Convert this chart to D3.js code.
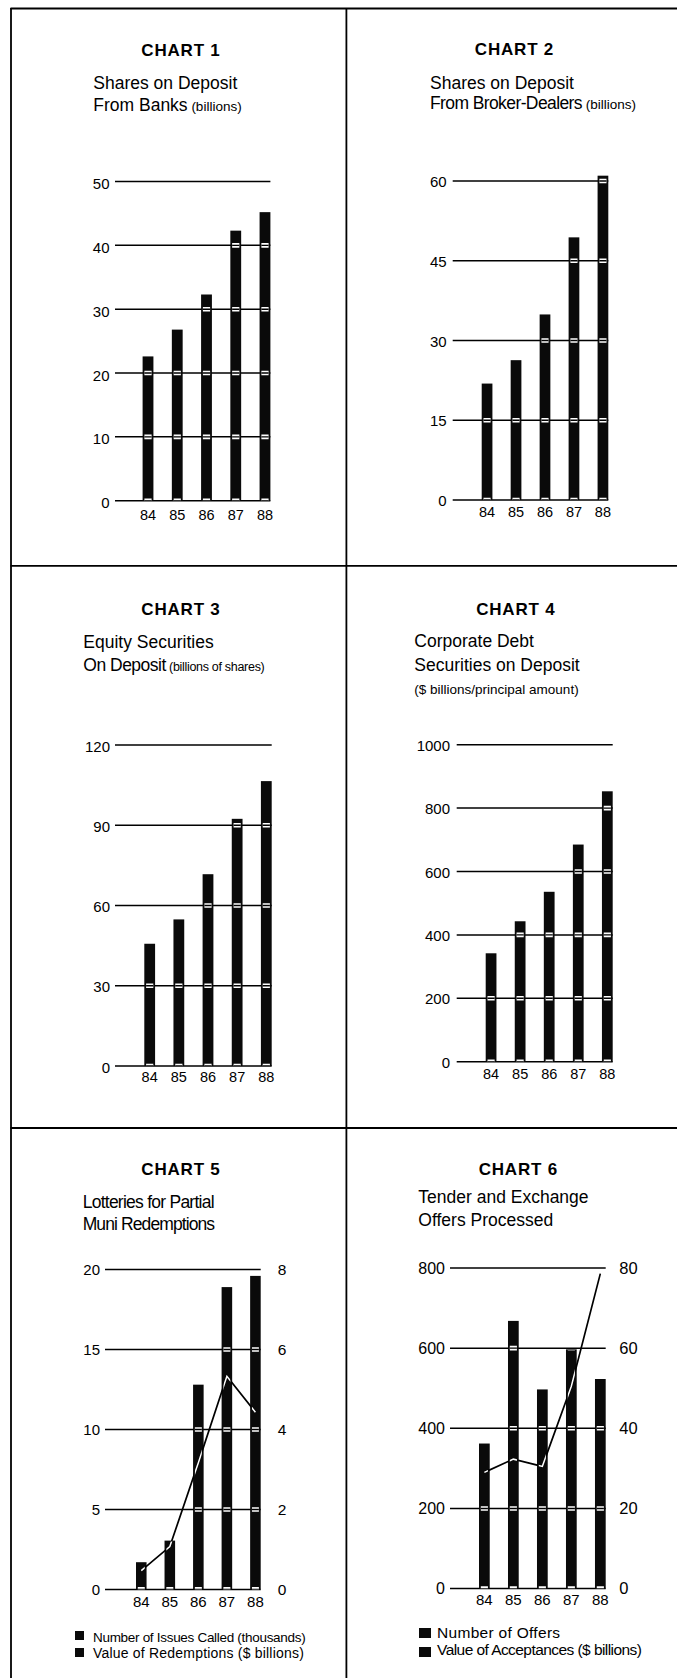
<!DOCTYPE html>
<html><head><meta charset="utf-8">
<script src="https://cdn.jsdelivr.net/npm/d3@7"></script>
<style>
html,body{margin:0;padding:0;background:#fff;}
svg{display:block;font-family:"Liberation Sans",Arial,Helvetica,sans-serif;}
</style></head><body>
<script>
// ---------- DATA ----------
const years = ["84","85","86","87","88"];

const sharesFromBanks = [22.6, 26.8, 32.3, 42.3, 45.2];          // chart 1 (billions)
const sharesFromBrokers = [21.9, 26.3, 34.9, 49.4, 61.0];        // chart 2 (billions)
const equitySecurities = [45.7, 54.8, 71.7, 92.4, 106.5];        // chart 3 (billions of shares)
const corporateDebt = [342, 443, 536, 685, 853];                 // chart 4 ($ billions)
const issuesCalled = [1.7, 3.05, 12.8, 18.9, 19.6];              // chart 5 bars (thousands)
const redemptionValue = [0.47, 1.07, 3.17, 5.33, 4.43];          // chart 5 line ($ billions)
const offersNumber = [362, 668, 497, 597, 523];                  // chart 6 bars
const acceptanceValue = [29.0, 32.3, 30.5, 50.5, 78.6];          // chart 6 line ($ billions)

const ticks1 = [0, 10, 20, 30, 40, 50];
const ticks2 = [0, 15, 30, 45, 60];
const ticks3 = [0, 30, 60, 90, 120];
const ticks4 = [0, 200, 400, 600, 800, 1000];
const ticks5L = [0, 5, 10, 15, 20];
const ticks5R = [0, 2, 4, 6, 8];
const ticks6L = [0, 200, 400, 600, 800];
const ticks6R = [0, 20, 40, 60, 80];

// ---------- SVG ----------
const W = 677, H = 1678;
const svg = d3.select("body").append("svg").attr("width", W).attr("height", H);
svg.append("rect").attr("width", W).attr("height", H).attr("fill", "#fff");

// frame
const frame = svg.append("g").attr("stroke", "#000").attr("stroke-width", 1.8);
frame.append("line").attr("x1", 10.5).attr("x2", W).attr("y1", 8.5).attr("y2", 8.5);
frame.append("line").attr("x1", 11).attr("x2", 11).attr("y1", 8).attr("y2", H);
frame.append("line").attr("x1", 346.4).attr("x2", 346.4).attr("y1", 8).attr("y2", H);
frame.append("line").attr("x1", 10.5).attr("x2", W).attr("y1", 565.8).attr("y2", 565.8);
frame.append("line").attr("x1", 10.5).attr("x2", W).attr("y1", 1128).attr("y2", 1128);

let clipId = 0;

function drawChart(c) {
  const g = svg.append("g");

  // title
  g.append("text").attr("x", c.titleX).attr("y", c.titleY)
    .attr("text-anchor", "middle").attr("font-weight", "bold")
    .attr("font-size", 17).attr("letter-spacing", 0.8).text(c.title);

  // subtitle lines
  c.sub.forEach(line => {
    const t = g.append("text").attr("x", c.subX).attr("y", line.y);
    line.parts.forEach((p, i) => {
      t.append("tspan").attr("font-size", p.size).attr("letter-spacing", p.ls || 0)
        .text((i > 0 ? " " : "") + p.text);
    });
  });

  const y = d3.scaleLinear().domain(c.domain).range([c.yBottom, c.yTop]);
  const x = d3.scaleBand().domain(years).range([c.barL, c.barR]).paddingInner(0.63).paddingOuter(0);

  // gridlines
  g.append("g").selectAll("line").data(c.ticks).join("line")
    .attr("x1", c.gx0).attr("x2", c.barR)
    .attr("y1", d => y(d)).attr("y2", d => y(d))
    .attr("stroke", "#000").attr("stroke-width", 1.5);

  // left labels
  g.append("g").selectAll("text").data(c.ticks).join("text")
    .attr("x", c.labelRight).attr("y", d => y(d) + c.labelDy)
    .attr("text-anchor", "end").attr("font-size", c.labelSize)
    .text(d => d);

  // bars
  g.append("g").selectAll("rect").data(c.values).join("rect")
    .attr("x", (d, i) => x(years[i])).attr("width", x.bandwidth())
    .attr("y", d => y(d)).attr("height", d => c.yBottom - y(d))
    .attr("fill", "#0a0a0a");

  // clip to bar interiors
  const id = "clip" + (clipId++);
  g.append("clipPath").attr("id", id).selectAll("rect").data(c.values).join("rect")
    .attr("x", (d, i) => x(years[i]) + 1.8).attr("width", x.bandwidth() - 3.6)
    .attr("y", d => y(d) + 1).attr("height", d => c.yBottom - y(d) - 1);
  const inner = g.append("g").attr("clip-path", `url(#${id})`);
  inner.selectAll("line.w").data(c.ticks).join("line").attr("class", "w")
    .attr("x1", c.gx0).attr("x2", c.barR)
    .attr("y1", d => y(d)).attr("y2", d => y(d))
    .attr("stroke", "#fff").attr("stroke-width", 4.6);
  inner.selectAll("line.b").data(c.ticks).join("line").attr("class", "b")
    .attr("x1", c.gx0).attr("x2", c.barR)
    .attr("y1", d => y(d)).attr("y2", d => y(d))
    .attr("stroke", "#000").attr("stroke-width", 1.4);

  // x labels
  g.append("g").selectAll("text").data(years).join("text")
    .attr("x", d => x(d) + x.bandwidth() / 2).attr("y", c.xLabelY)
    .attr("text-anchor", "middle").attr("font-size", c.xLabelSize)
    .text(d => d);

  // line series (secondary axis)
  if (c.line) {
    const y2 = d3.scaleLinear().domain(c.line.domain).range([c.yBottom, c.yTop]);
    g.append("g").selectAll("text").data(c.line.ticks).join("text")
      .attr("x", c.line.labelLeft).attr("y", d => y2(d) + c.labelDy)
      .attr("text-anchor", "start").attr("font-size", c.line.labelSize)
      .text(d => d);
    const lineGen = d3.line()
      .x((d, i) => x(years[i]) + x.bandwidth() / 2)
      .y(d => y2(d));
    g.append("path").datum(c.line.values).attr("d", lineGen)
      .attr("fill", "none").attr("stroke", "#000").attr("stroke-width", 1.7);
    g.append("path").datum(c.line.values).attr("d", lineGen)
      .attr("clip-path", `url(#${id})`)
      .attr("fill", "none").attr("stroke", "#fff").attr("stroke-width", 1.5);
  }

  // legend
  if (c.legend) {
    c.legend.forEach(l => {
      g.append("rect").attr("x", c.legendX).attr("y", l.sqY)
        .attr("width", c.legendSq[0]).attr("height", c.legendSq[1]).attr("fill", "#0a0a0a");
      g.append("text").attr("x", c.legendTextX).attr("y", l.y)
        .attr("font-size", l.size).attr("letter-spacing", l.ls).text(l.text);
    });
  }
}

// ---------- CHARTS ----------
drawChart({
  title: "CHART 1", titleX: 181, titleY: 55.8, subX: 93.3,
  sub: [
    { y: 88.6, parts: [{ text: "Shares on Deposit", size: 17.5 }] },
    { y: 110.9, parts: [{ text: "From Banks", size: 17.5 }, { text: "(billions)", size: 13.5 }] }
  ],
  domain: [0, 50], ticks: ticks1, yBottom: 500.7, yTop: 181.5,
  gx0: 115, barL: 142.6, barR: 270.4,
  labelRight: 109.5, labelDy: 7.5, labelSize: 15,
  xLabelY: 520, xLabelSize: 14.5,
  values: sharesFromBanks
});

drawChart({
  title: "CHART 2", titleX: 514.5, titleY: 55, subX: 430,
  sub: [
    { y: 88.6, parts: [{ text: "Shares on Deposit", size: 17.5 }] },
    { y: 109, parts: [{ text: "From Broker-Dealers", size: 17.5, ls: -0.6 }, { text: "(billions)", size: 13.5 }] }
  ],
  domain: [0, 60], ticks: ticks2, yBottom: 500, yTop: 181,
  gx0: 452.7, barL: 481.7, barR: 608.3,
  labelRight: 446.7, labelDy: 6, labelSize: 15,
  xLabelY: 517, xLabelSize: 14.5,
  values: sharesFromBrokers
});

drawChart({
  title: "CHART 3", titleX: 181, titleY: 614.7, subX: 83.3,
  sub: [
    { y: 648, parts: [{ text: "Equity Securities", size: 17.5 }] },
    { y: 670.5, parts: [{ text: "On Deposit", size: 17.5, ls: -0.5 }, { text: "(billions of shares)", size: 12.5, ls: -0.3 }] }
  ],
  domain: [0, 120], ticks: ticks3, yBottom: 1066, yTop: 745,
  gx0: 115, barL: 144.3, barR: 271.7,
  labelRight: 110, labelDy: 6.5, labelSize: 15,
  xLabelY: 1081.7, xLabelSize: 14.5,
  values: equitySecurities
});

drawChart({
  title: "CHART 4", titleX: 515.8, titleY: 614.7, subX: 414.3,
  sub: [
    { y: 646.7, parts: [{ text: "Corporate Debt", size: 17.5 }] },
    { y: 670.5, parts: [{ text: "Securities on Deposit", size: 17.5 }] },
    { y: 694, parts: [{ text: "($ billions/principal amount)", size: 13.5 }] }
  ],
  domain: [0, 1000], ticks: ticks4, yBottom: 1061.7, yTop: 744.7,
  gx0: 456.7, barL: 485.7, barR: 612.7,
  labelRight: 450, labelDy: 6, labelSize: 15,
  xLabelY: 1078.5, xLabelSize: 14.5,
  values: corporateDebt
});

drawChart({
  title: "CHART 5", titleX: 181, titleY: 1175, subX: 82.7,
  sub: [
    { y: 1208, parts: [{ text: "Lotteries for Partial", size: 17.5, ls: -0.75 }] },
    { y: 1230, parts: [{ text: "Muni Redemptions", size: 17.5, ls: -0.9 }] }
  ],
  domain: [0, 20], ticks: ticks5L, yBottom: 1589.4, yTop: 1269.5,
  gx0: 105, barL: 136, barR: 260.7,
  labelRight: 100, labelDy: 5.5, labelSize: 15,
  xLabelY: 1606.7, xLabelSize: 15,
  values: issuesCalled,
  line: { values: redemptionValue, domain: [0, 8], ticks: ticks5R, labelLeft: 277.7, labelSize: 15.5 },
  legendX: 75, legendTextX: 93, legendSq: [9, 9],
  legend: [
    { sqY: 1631, y: 1642, text: "Number of Issues Called (thousands)", size: 13.5, ls: -0.3 },
    { sqY: 1648, y: 1657.5, text: "Value of Redemptions ($ billions)", size: 14, ls: 0.2 }
  ]
});

drawChart({
  title: "CHART 6", titleX: 518.3, titleY: 1175, subX: 418.3,
  sub: [
    { y: 1203.4, parts: [{ text: "Tender and Exchange", size: 17.5 }] },
    { y: 1226, parts: [{ text: "Offers Processed", size: 17.5 }] }
  ],
  domain: [0, 800], ticks: ticks6L, yBottom: 1588.6, yTop: 1268,
  gx0: 450, barL: 479, barR: 605.7,
  labelRight: 445, labelDy: 5.8, labelSize: 16,
  xLabelY: 1605, xLabelSize: 15,
  values: offersNumber,
  line: { values: acceptanceValue, domain: [0, 80], ticks: ticks6R, labelLeft: 619.3, labelSize: 16.5 },
  legendX: 419, legendTextX: 437, legendSq: [12, 10],
  legend: [
    { sqY: 1628, y: 1638.3, text: "Number of Offers", size: 15.5, ls: 0.3 },
    { sqY: 1647, y: 1655, text: "Value of Acceptances ($ billions)", size: 15.5, ls: -0.56 }
  ]
});
</script>
</body></html>
